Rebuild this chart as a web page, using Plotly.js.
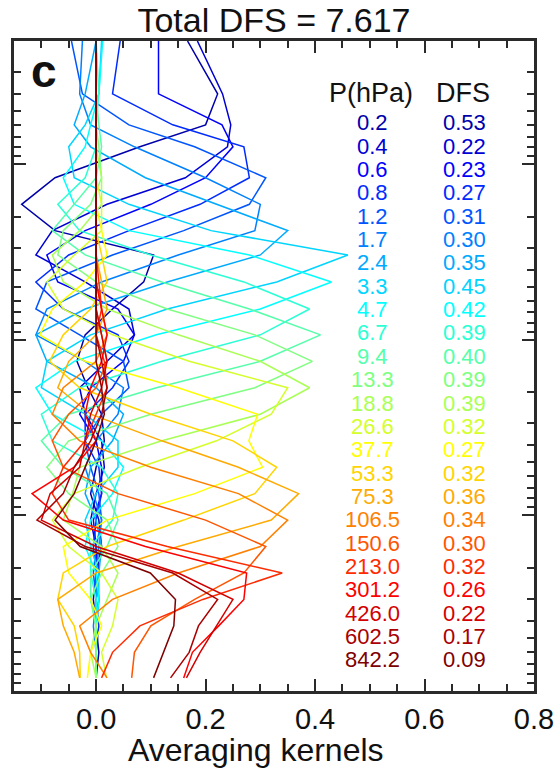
<!DOCTYPE html>
<html>
<head>
<meta charset="utf-8">
<script src="https://cdn.plot.ly/plotly-3.0.1.min.js"></script>
<style>
  html, body { margin: 0; padding: 0; background: #ffffff; }
  #chart { width: 560px; height: 774px; }
</style>
</head>
<body>
<div id="chart"></div>
<script>
// Retrieval pressure levels (hPa) and degrees of freedom for signal per level
const pressure = [0.2, 0.4, 0.6, 0.8, 1.2, 1.7, 2.4, 3.3, 4.7, 6.7, 9.4, 13.3,
                  18.8, 26.6, 37.7, 53.3, 75.3, 106.5, 150.6, 213.0, 301.2, 426.0, 602.5, 842.2];
const pressureLabels = ['0.2', '0.4', '0.6', '0.8', '1.2', '1.7', '2.4', '3.3', '4.7', '6.7', '9.4', '13.3',
                        '18.8', '26.6', '37.7', '53.3', '75.3', '106.5', '150.6', '213.0', '301.2', '426.0', '602.5', '842.2'];
const dfs = [0.53, 0.22, 0.23, 0.27, 0.31, 0.30, 0.35, 0.45, 0.42, 0.39, 0.40, 0.39,
             0.39, 0.32, 0.27, 0.32, 0.36, 0.34, 0.30, 0.32, 0.26, 0.22, 0.17, 0.09];
const totalDfs = '7.617';

// Averaging kernel rows, one per retrieval level, sampled on the pressure grid above
const ak_0p2   = [0.167, 0.222, 0.200, 0.080, -0.075, -0.136, -0.075, 0.105, 0.087, 0.030, -0.020, -0.035, -0.015, 0.010, 0.015, 0.000, -0.010, 0.005, 0.010, 0.000, -0.005, 0.000, 0.005, 0.000];
const ak_0p4   = [0.185, 0.231, 0.246, 0.240, 0.163, 0.020, -0.080, -0.110, -0.020, 0.060, 0.070, 0.020, -0.030, -0.020, 0.010, 0.015, 0.000, -0.010, 0.000, 0.005, 0.000, 0.000, 0.000, 0.000];
const ak_0p6   = [0.114, 0.114, 0.230, 0.250, 0.200, 0.100, -0.020, -0.090, -0.070, 0.040, 0.070, 0.050, -0.010, -0.030, 0.000, 0.010, 0.010, -0.005, 0.000, 0.000, 0.005, 0.000, 0.000, 0.000];
const ak_0p8   = [0.044, 0.030, 0.140, 0.270, 0.280, 0.190, 0.060, -0.050, -0.110, -0.060, 0.040, 0.060, 0.030, -0.020, -0.020, 0.005, 0.010, 0.000, -0.005, 0.000, 0.000, 0.005, 0.000, 0.000];
const ak_1p2   = [-0.045, -0.025, 0.060, 0.180, 0.310, 0.280, 0.160, 0.030, -0.090, -0.110, -0.030, 0.050, 0.060, 0.010, -0.020, -0.010, 0.005, 0.010, 0.000, -0.005, 0.000, 0.000, 0.000, 0.000];
const ak_1p7   = [-0.025, -0.030, -0.010, 0.070, 0.200, 0.300, 0.290, 0.150, 0.010, -0.090, -0.110, -0.020, 0.050, 0.040, 0.000, -0.020, -0.005, 0.010, 0.005, 0.000, 0.000, -0.005, 0.000, 0.000];
const ak_2p4   = [0.000, -0.020, -0.040, -0.010, 0.090, 0.220, 0.350, 0.300, 0.130, -0.020, -0.110, -0.090, 0.000, 0.050, 0.030, -0.010, -0.020, 0.000, 0.010, 0.005, 0.000, 0.000, 0.000, 0.000];
const ak_3p3   = [0.010, 0.005, -0.020, -0.050, -0.040, 0.060, 0.210, 0.460, 0.330, 0.130, -0.010, -0.090, -0.100, -0.020, 0.040, 0.040, 0.000, -0.020, -0.010, 0.005, 0.005, 0.000, 0.000, 0.000];
const ak_4p7   = [0.012, 0.005, -0.010, -0.020, -0.060, -0.040, 0.060, 0.280, 0.430, 0.300, 0.110, -0.040, -0.110, -0.080, 0.010, 0.050, 0.030, -0.010, -0.020, 0.000, 0.005, 0.000, 0.000, 0.000];
const ak_6p7   = [0.000, 0.005, 0.000, 0.000, -0.020, -0.070, -0.030, 0.100, 0.270, 0.390, 0.300, 0.120, -0.030, -0.100, -0.080, 0.010, 0.040, 0.030, -0.010, -0.010, 0.000, 0.000, 0.000, 0.000];
const ak_9p4   = [0.000, 0.000, 0.005, 0.010, 0.000, -0.040, -0.080, -0.020, 0.120, 0.280, 0.410, 0.300, 0.110, -0.050, -0.100, -0.060, 0.020, 0.040, 0.020, -0.010, -0.010, 0.000, 0.000, 0.000];
const ak_13p3  = [0.000, 0.000, 0.000, 0.005, 0.010, -0.010, -0.060, -0.070, 0.000, 0.130, 0.290, 0.395, 0.290, 0.100, -0.050, -0.090, -0.050, 0.020, 0.040, 0.010, -0.010, 0.000, 0.000, 0.000];
const ak_18p8  = [0.000, 0.000, 0.000, 0.000, 0.010, 0.010, -0.030, -0.080, -0.060, 0.020, 0.150, 0.300, 0.390, 0.300, 0.120, -0.030, -0.043, -0.060, 0.010, 0.040, 0.020, 0.000, -0.010, 0.000];
const ak_26p6  = [0.000, 0.000, 0.000, 0.000, 0.000, 0.010, 0.010, -0.040, -0.090, -0.060, 0.030, 0.170, 0.350, 0.320, 0.220, 0.080, -0.040, -0.080, -0.050, 0.010, 0.040, 0.030, 0.010, 0.019];
const ak_37p7  = [0.000, 0.000, 0.000, 0.000, 0.000, 0.000, 0.010, 0.020, -0.020, -0.080, -0.103, -0.020, 0.150, 0.295, 0.279, 0.304, 0.180, 0.020, -0.060, -0.050, -0.010, 0.010, -0.010, -0.016];
const ak_53p3  = [0.000, 0.000, 0.000, 0.000, 0.000, 0.000, 0.000, 0.010, 0.020, -0.010, -0.060, -0.085, -0.030, 0.100, 0.250, 0.330, 0.290, 0.160, 0.020, -0.060, -0.070, -0.040, -0.030, -0.029];
const ak_75p3  = [0.000, 0.000, 0.000, 0.000, 0.000, 0.000, 0.000, 0.000, 0.010, 0.020, 0.000, -0.050, -0.070, -0.010, 0.120, 0.260, 0.370, 0.320, 0.150, 0.000, -0.070, -0.060, -0.040, -0.030];
const ak_106p5 = [0.000, 0.000, 0.000, 0.000, 0.000, 0.000, 0.000, 0.000, 0.000, 0.010, 0.020, 0.000, -0.060, -0.080, -0.030, 0.100, 0.260, 0.350, 0.300, 0.150, 0.030, -0.030, -0.010, 0.020];
const ak_150p6 = [0.000, 0.000, 0.000, 0.000, 0.000, 0.000, 0.000, 0.000, 0.000, 0.000, 0.010, 0.020, 0.000, -0.050, -0.080, -0.060, 0.040, 0.200, 0.310, 0.270, 0.180, 0.100, 0.070, 0.065];
const ak_213p0 = [0.000, 0.000, 0.000, 0.000, 0.000, 0.000, 0.000, 0.000, 0.005, 0.010, 0.000, 0.015, 0.020, 0.000, -0.020, -0.060, -0.080, -0.050, 0.130, 0.340, 0.195, 0.080, 0.030, 0.010];
const ak_301p2 = [0.000, 0.000, 0.000, 0.000, 0.000, 0.000, 0.000, 0.000, 0.000, 0.010, 0.020, 0.010, -0.010, -0.020, 0.000, -0.040, -0.117, -0.060, 0.090, 0.275, 0.270, 0.224, 0.176, 0.160];
const ak_426p0 = [0.000, 0.000, 0.000, 0.000, 0.000, 0.000, 0.000, 0.000, 0.000, 0.000, 0.010, 0.020, 0.010, -0.010, -0.020, -0.030, -0.084, -0.100, 0.000, 0.150, 0.250, 0.220, 0.190, 0.165];
const ak_602p5 = [0.000, 0.000, 0.000, 0.000, 0.000, 0.000, 0.000, 0.000, 0.000, 0.000, 0.000, 0.010, 0.020, 0.010, -0.010, -0.040, -0.060, -0.108, -0.020, 0.140, 0.222, 0.187, 0.170, 0.136];
const ak_842p2 = [0.000, 0.000, 0.000, 0.000, 0.000, 0.000, 0.000, 0.000, 0.000, 0.000, 0.000, 0.000, 0.010, 0.015, 0.000, -0.020, -0.040, -0.075, -0.029, 0.099, 0.145, 0.142, 0.123, 0.105];

const kernels = [ak_0p2, ak_0p4, ak_0p6, ak_0p8, ak_1p2, ak_1p7, ak_2p4, ak_3p3, ak_4p7, ak_6p7, ak_9p4, ak_13p3,
                 ak_18p8, ak_26p6, ak_37p7, ak_53p3, ak_75p3, ak_106p5, ak_150p6, ak_213p0, ak_301p2, ak_426p0, ak_602p5, ak_842p2];

// 24-step jet colour map, top level (blue) to surface (dark red)
const jet24 = ['#0000AA', '#0000D4', '#0000FF', '#002BFF', '#0055FF', '#0080FF', '#00AAFF', '#00D4FF',
               '#00FFFF', '#2BFFD4', '#55FFAA', '#80FF80', '#AAFF55', '#D4FF2B', '#FFFF00', '#FFD400',
               '#FFAA00', '#FF8000', '#FF5500', '#FF2B00', '#FF0000', '#D40000', '#AA0000', '#800000'];

const xMajor = [0, 0.2, 0.4, 0.6, 0.8];
const xMajorText = ['0.0', '0.2', '0.4', '0.6', '0.8'];
const xMinor = [-0.15, -0.1, -0.05, 0.05, 0.1, 0.15, 0.25, 0.3, 0.35, 0.45, 0.5, 0.55, 0.65, 0.7, 0.75];
const yMajor = [1, 10, 100];
const yMinor = [0.3, 0.4, 0.5, 0.6, 0.7, 0.8, 0.9, 2, 3, 4, 5, 6, 7, 8, 9,
                20, 30, 40, 50, 60, 70, 80, 90, 200, 300, 400, 500, 600, 700, 800, 900];

const FONT = 'Liberation Sans, Arial, Helvetica, sans-serif';
const INK = '#111111';
const AXIS = '#2a2a2a';

const traces = kernels.map((k, i) => ({
  type: 'scatter',
  mode: 'lines',
  x: k,
  y: pressure,
  line: { color: jet24[i], width: 1.5 },
  hoverinfo: 'skip',
  showlegend: false
}));

// Level / DFS table on the right of the panel
const rowTop = 122.7, rowStep = 23.36, plotTop = 41, plotH = 650, plotL = 14, plotW = 520;
const py = yPix => 1 - (yPix - plotTop) / plotH;
const px = xPix => (xPix - plotL) / plotW;

const annotations = [
  { text: '<b>c</b>', x: px(44), y: py(71), xref: 'paper', yref: 'paper', showarrow: false,
    font: { family: FONT, size: 46, color: INK }, xanchor: 'center', yanchor: 'middle' },
  { text: 'P(hPa)', x: px(371), y: py(93), xref: 'paper', yref: 'paper', showarrow: false,
    font: { family: FONT, size: 27, color: INK }, xanchor: 'center', yanchor: 'middle' },
  { text: 'DFS', x: px(463), y: py(93), xref: 'paper', yref: 'paper', showarrow: false,
    font: { family: FONT, size: 27, color: INK }, xanchor: 'center', yanchor: 'middle' },
  // x-axis caption, set slightly left of the panel centre
  { text: 'Averaging kernels', x: px(256), y: py(750), xref: 'paper', yref: 'paper', showarrow: false,
    font: { family: FONT, size: 32, color: INK }, xanchor: 'center', yanchor: 'middle' }
];
pressureLabels.forEach((lab, i) => {
  const yy = py(rowTop + i * rowStep);
  annotations.push({ text: lab, x: px(372), y: yy, xref: 'paper', yref: 'paper', showarrow: false,
    font: { family: FONT, size: 22, color: jet24[i] }, xanchor: 'center', yanchor: 'middle' });
  annotations.push({ text: dfs[i].toFixed(2), x: px(464.5), y: yy, xref: 'paper', yref: 'paper', showarrow: false,
    font: { family: FONT, size: 22, color: jet24[i] }, xanchor: 'center', yanchor: 'middle' });
});

const layout = {
  width: 560,
  height: 774,
  margin: { l: 14, r: 26, t: 41, b: 83 },
  paper_bgcolor: '#ffffff',
  plot_bgcolor: '#ffffff',
  font: { family: FONT, color: INK },
  title: {
    text: 'Total DFS = ' + totalDfs,
    font: { family: FONT, size: 34, color: INK },
    x: 0.5, xref: 'paper', xanchor: 'center',
    y: 1 - 20 / 774, yref: 'container', yanchor: 'middle'
  },
  xaxis: {
    range: [-0.15, 0.8],
    tickmode: 'array', tickvals: xMajor, ticktext: xMajorText,
    ticks: 'inside', ticklen: 12, tickwidth: 2, tickcolor: AXIS,
    minor: { tickmode: 'array', tickvals: xMinor, ticks: 'inside', ticklen: 7, tickwidth: 2, tickcolor: AXIS },
    showline: true, linewidth: 3, linecolor: AXIS, mirror: 'ticks',
    showgrid: false, zeroline: false,
    tickfont: { family: FONT, size: 29, color: INK }
  },
  yaxis: {
    type: 'log',
    range: [3, Math.log10(0.2)],
    tickmode: 'array', tickvals: yMajor, showticklabels: false,
    ticks: 'inside', ticklen: 12, tickwidth: 2, tickcolor: AXIS,
    minor: { tickmode: 'array', tickvals: yMinor, ticks: 'inside', ticklen: 7, tickwidth: 2, tickcolor: AXIS },
    showline: true, linewidth: 3, linecolor: AXIS, mirror: 'ticks',
    showgrid: false, zeroline: false
  },
  annotations: annotations
};

Plotly.newPlot('chart', traces, layout, { staticPlot: true, displayModeBar: false });
</script>
</body>
</html>
